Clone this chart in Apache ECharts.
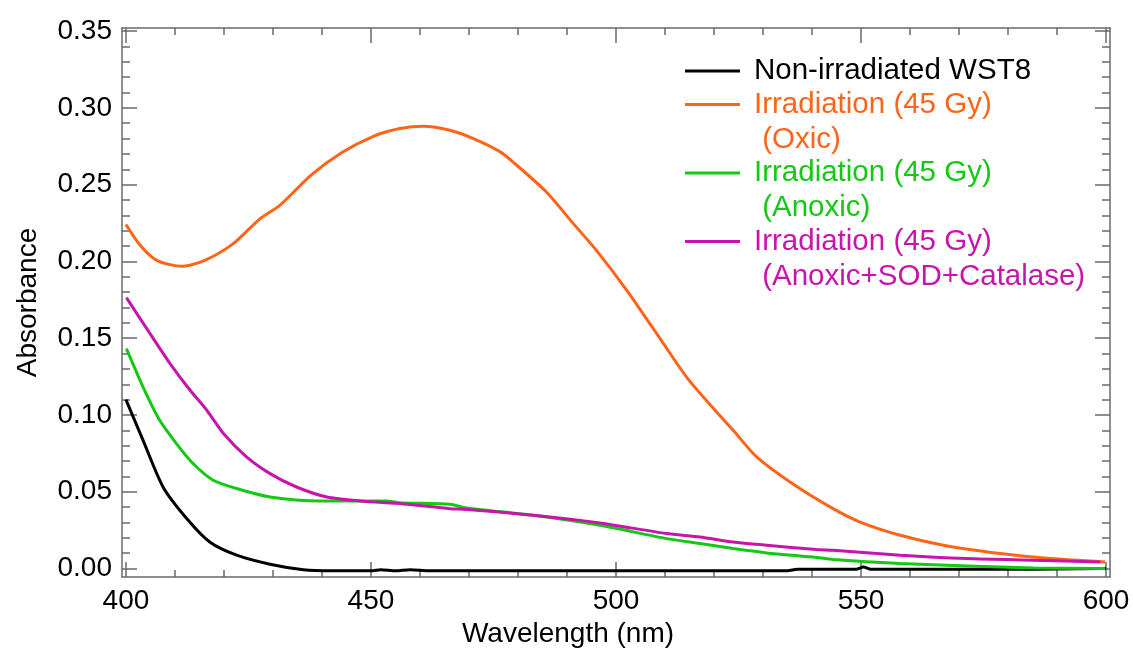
<!DOCTYPE html>
<html>
<head>
<meta charset="utf-8">
<script src="https://cdn.jsdelivr.net/npm/echarts@6/dist/echarts.min.js"></script>
<style>
html,body{margin:0;padding:0;background:#fff;}
#chart{width:1133px;height:648px;}
</style>
</head>
<body>
<div id="chart"></div>
<script>
// ---- Data ----
const seriesNames = [
  'Non-irradiated WST8',
  'Irradiation (45 Gy)\n (Oxic)',
  'Irradiation (45 Gy)\n (Anoxic)',
  'Irradiation (45 Gy)\n (Anoxic+SOD+Catalase)'
];
const seriesColors = ['#000000', '#FF6419', '#14C814', '#C814AA'];

const wlBlack  = [400, 403.5, 407.6, 412.4, 417.1, 422.6, 429.4, 436.2, 442, 450, 452, 455, 458, 462, 470, 480, 490, 500, 510, 520, 530, 535, 537, 545, 549, 550.5, 552, 560, 570, 580, 590, 600];
const absBlack = [0.110, 0.0835, 0.053, 0.0326, 0.0173, 0.0087, 0.0028, -0.0008, -0.0015, -0.0015, -0.0008, -0.0015, -0.0008, -0.0015, -0.0015, -0.0015, -0.0015, -0.0015, -0.0015, -0.0015, -0.0015, -0.0015, -0.0005, -0.0005, -0.0005, 0.001, -0.0005, -0.0005, -0.0005, -0.0005, -0.0003, 0.0];

const wlOxic  = [400, 402.9, 406.3, 411.4, 416.1, 421.9, 427.4, 431.4, 437.9, 444, 450.5, 455.9, 460.7, 466.1, 470.9, 476.3, 479, 485.8, 491.3, 496, 502.2, 508.3, 514.4, 519.9, 523.9, 528.7, 535.5, 544.3, 549.8, 558, 566.8, 578.4, 588.6, 599.8];
const absOxic = [0.224, 0.2105, 0.2007, 0.1968, 0.2007, 0.2116, 0.2279, 0.2365, 0.2565, 0.2708, 0.2815, 0.2865, 0.288, 0.2854, 0.280, 0.2715, 0.2647, 0.2452, 0.2246, 0.2072, 0.1812, 0.153, 0.1247, 0.1042, 0.090, 0.0727, 0.0564, 0.039, 0.0303, 0.0217, 0.0152, 0.0098, 0.0065, 0.0043];

const wlAnoxic  = [400.1, 403.5, 406.9, 410.3, 413.7, 417.8, 422.6, 429.4, 439.6, 453.2, 455.9, 466.1, 469.5, 483.1, 496.7, 510.3, 517.1, 523.9, 530.7, 540.9, 544.3, 558, 571.6, 585.2, 599.8];
const absAnoxic = [0.1432, 0.1182, 0.0965, 0.0814, 0.0684, 0.0575, 0.0521, 0.0466, 0.044, 0.044, 0.0429, 0.0419, 0.0395, 0.0347, 0.0282, 0.0195, 0.0163, 0.013, 0.0102, 0.0072, 0.0059, 0.0033, 0.0017, 0.0004, 0.0];

const wlSod  = [400.1, 405.6, 409, 413.1, 416.5, 419.9, 424.6, 429.4, 434.8, 441, 447.8, 456.6, 466.1, 469.5, 483.1, 496.7, 510.3, 517.1, 523.9, 530.7, 540.9, 544.3, 558, 571.6, 585.2, 598.8];
const absSod = [0.1764, 0.1497, 0.1335, 0.1161, 0.1031, 0.0879, 0.0727, 0.0618, 0.0531, 0.0466, 0.044, 0.0421, 0.039, 0.0385, 0.0347, 0.0297, 0.0228, 0.0206, 0.0173, 0.0152, 0.0124, 0.0119, 0.0087, 0.0065, 0.0054, 0.0043];

// ---- Tick labels ----
const xMajorTicks = [400, 450, 500, 550, 600];
const xMinorTicks = [400, 410, 420, 430, 440, 450, 460, 470, 480, 490, 500, 510, 520, 530, 540, 550, 560, 570, 580, 590, 600];
const yMajorTicks = [0, 0.05, 0.10, 0.15, 0.20, 0.25, 0.30, 0.35];
const yMinorTicks = [0, 0.01, 0.02, 0.03, 0.04, 0.05, 0.06, 0.07, 0.08, 0.09, 0.10, 0.11, 0.12, 0.13, 0.14, 0.15, 0.16, 0.17, 0.18, 0.19, 0.20, 0.21, 0.22, 0.23, 0.24, 0.25, 0.26, 0.27, 0.28, 0.29, 0.30, 0.31, 0.32, 0.33, 0.34, 0.35];

const xTitle = 'Wavelength (nm)';
const yTitle = 'Absorbance';

// ---- Build ----
const allWl = [wlBlack, wlOxic, wlAnoxic, wlSod];
const allAbs = [absBlack, absOxic, absAnoxic, absSod];
function pairs(a, b) { return a.map((v, i) => [v, b[i]]); }

const FONT = '"Liberation Sans", Arial, sans-serif';
const AXIS_COLOR = '#6a6a6a';
const X_MIN = 399.2, X_MAX = 600.8, Y_MIN = -0.0055, Y_MAX = 0.352;

function xAx(pos, ticks, len, showLine, labels) {
  return {
    type: 'value', position: pos, min: X_MIN, max: X_MAX,
    axisLine: { show: showLine, onZero: false, lineStyle: { color: AXIS_COLOR, width: 1.5 } },
    axisTick: { show: true, inside: true, length: len, customValues: ticks, lineStyle: { color: AXIS_COLOR, width: 1.5 } },
    axisLabel: labels ? { show: true, customValues: xMajorTicks, fontSize: 28, color: '#000', fontFamily: FONT, margin: 10 } : { show: false },
    splitLine: { show: false }
  };
}
function yAx(pos, ticks, len, showLine, labels) {
  return {
    type: 'value', position: pos, min: Y_MIN, max: Y_MAX,
    axisLine: { show: showLine, onZero: false, lineStyle: { color: AXIS_COLOR, width: 1.5 } },
    axisTick: { show: true, inside: true, length: len, customValues: ticks, lineStyle: { color: AXIS_COLOR, width: 1.5 } },
    axisLabel: labels ? { show: true, customValues: yMajorTicks, fontSize: 28, color: '#000', fontFamily: FONT, margin: 10, formatter: v => v.toFixed(2) } : { show: false },
    splitLine: { show: false }
  };
}

const xAxes = [
  Object.assign(xAx('bottom', xMajorTicks, 15, true, true), {
    name: xTitle, nameLocation: 'middle', nameGap: 41,
    nameTextStyle: { fontSize: 28, color: '#000', fontFamily: FONT, padding: [0, 96, 0, 0] }
  }),
  xAx('bottom', xMinorTicks, 7, false, false),
  xAx('top', xMajorTicks, 15, true, false),
  xAx('top', xMinorTicks, 7, false, false)
];
const yAxes = [
  Object.assign(yAx('left', yMajorTicks, 15, true, true), {
    name: yTitle, nameLocation: 'middle', nameGap: 80,
    nameTextStyle: { fontSize: 28, color: '#000', fontFamily: FONT }
  }),
  yAx('left', yMinorTicks, 8, false, false),
  yAx('right', yMajorTicks, 15, true, false),
  yAx('right', yMinorTicks, 8, false, false)
];

const series = seriesNames.map((n, i) => ({
  name: n, type: 'line', xAxisIndex: 0, yAxisIndex: 0,
  data: pairs(allWl[i], allAbs[i]),
  showSymbol: false, symbol: 'none', smooth: 0.25,
  color: seriesColors[i],
  lineStyle: { color: seriesColors[i], width: 3 },
  z: 3 + i
}));

const chart = echarts.init(document.getElementById('chart'), null, { renderer: 'canvas' });
chart.setOption({
  animation: false,
  backgroundColor: '#fff',
  grid: { left: 122, right: 23, top: 28, bottom: 71, containLabel: false, outerBoundsMode: 'none' },
  xAxis: xAxes,
  yAxis: yAxes,
  legend: {
    orient: 'vertical', left: 685, top: 52, padding: 0,
    itemGap: -36.5, itemWidth: 55, itemHeight: 3,
    icon: 'rect',
    textStyle: { fontSize: 29.5, fontFamily: FONT, lineHeight: 35, padding: [0, 0, 0, 9] },
    formatter: name => (name.indexOf('\n') >= 0 ? '\n' + name : name),
    selectedMode: false,
    data: seriesNames.map((n, i) => ({ name: n, textStyle: { color: seriesColors[i] } }))
  },
  series: series
});
</script>
</body>
</html>
